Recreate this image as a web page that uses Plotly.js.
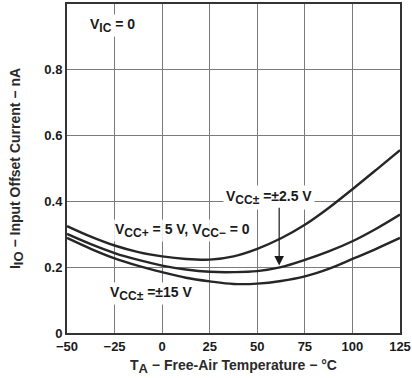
<!DOCTYPE html>
<html>
<head>
<meta charset="utf-8">
<script src="https://cdn.plot.ly/plotly-3.0.1.min.js"></script>
<style>html,body{margin:0;padding:0;background:#fff;}#chart{width:412px;height:378px;}</style>
</head>
<body>
<div id="chart"></div>
<script>
// Temperature (°C)
const temps = [-50, -37.5, -25, -12.5, 0, 12.5, 25, 37.5, 50, 62.5, 75, 87.5, 100, 112.5, 125];
// Input offset current (nA) per supply condition
const vcc2p5 = [0.325, 0.293, 0.266, 0.246, 0.233, 0.225, 0.223, 0.233, 0.256, 0.288, 0.329, 0.380, 0.437, 0.496, 0.556];
const vcc5single = [0.301, 0.270, 0.243, 0.222, 0.205, 0.193, 0.186, 0.185, 0.188, 0.200, 0.222, 0.248, 0.279, 0.317, 0.360];
const vcc15 = [0.289, 0.256, 0.227, 0.204, 0.185, 0.168, 0.157, 0.149, 0.150, 0.158, 0.172, 0.195, 0.225, 0.256, 0.289];
const xTicks = [-50, -25, 0, 25, 50, 75, 100, 125];
const xTickText = ['\u221250', '\u221225', '0', '25', '50', '75', '100', '125'];
const yTicks = [0, 0.2, 0.4, 0.6, 0.8, 1];
const yTickText = ['0', '0.2', '0.4', '0.6', '0.8', '1'];

function sub(t, px) { return '<sub><span style="font-size:' + px + 'px">' + t + '</span></sub>'; }

const lineStyle = {color: '#262626', width: 2.4, shape: 'spline', smoothing: 1};
const traces = [vcc2p5, vcc5single, vcc15].map(v => ({
  x: temps, y: v, mode: 'lines', line: lineStyle, hoverinfo: 'skip', showlegend: false
}));

const fam = 'Liberation Sans, Arial, sans-serif';
const annFont = {family: fam, size: 14, color: '#1a1a1a', weight: 'bold'};
const titleFont = {family: fam, size: 14, color: '#2a2a2a', weight: 'bold'};

const layout = {
  width: 412, height: 378,
  margin: {l: 67, r: 12, t: 4, b: 45},
  paper_bgcolor: '#fff', plot_bgcolor: '#fff',
  font: {family: fam, color: '#1a1a1a'},
  xaxis: {
    range: [-50, 125], tickvals: xTicks, ticktext: xTickText,
    showgrid: true, gridcolor: '#7a7a7a', gridwidth: 1,
    showline: true, linecolor: '#333', linewidth: 2, mirror: true,
    zeroline: false, ticks: '',
    tickfont: {family: fam, size: 13, color: '#1a1a1a', weight: 'bold'},
    title: {text: 'T' + sub('A', 13) + ' \u2212 Free-Air Temperature \u2212 \u00b0C', font: titleFont, standoff: 8}
  },
  yaxis: {
    range: [0, 1], tickvals: yTicks, ticktext: yTickText,
    showgrid: true, gridcolor: '#7a7a7a', gridwidth: 1,
    showline: true, linecolor: '#333', linewidth: 2, mirror: true,
    zeroline: false, ticks: '',
    tickfont: {family: fam, size: 13, color: '#1a1a1a', weight: 'bold'},
    title: {text: 'I' + sub('IO', 13) + ' \u2212 Input Offset Current \u2212 nA', font: titleFont, standoff: 20}
  },
  annotations: [
    {x: -26, y: 0.935, xref: 'x', yref: 'y', text: 'V' + sub('IC', 12) + ' = 0', showarrow: false, font: annFont, bgcolor: '#fff'},
    {x: 56, y: 0.413, xref: 'x', yref: 'y', text: 'V' + sub('CC\u00b1', 12) + ' =\u00b12.5 V', showarrow: false, font: annFont, bgcolor: '#fff', borderpad: 2},
    {x: 61.5, y: 0.205, ax: 61.5, ay: 0.385, xref: 'x', yref: 'y', axref: 'x', ayref: 'y', text: '', showarrow: true, arrowhead: 2, arrowsize: 1.6, arrowwidth: 1.2, arrowcolor: '#1a1a1a'},
    {x: 10.5, y: 0.313, xref: 'x', yref: 'y', text: 'V' + sub('CC+', 12) + ' = 5 V, V' + sub('CC\u2212', 12) + ' = 0', showarrow: false, font: annFont, bgcolor: 'rgba(255,255,255,0.85)'},
    {x: -6, y: 0.12, xref: 'x', yref: 'y', text: 'V' + sub('CC\u00b1', 12) + ' =\u00b115 V', showarrow: false, font: annFont, bgcolor: '#fff'}
  ]
};

Plotly.newPlot('chart', traces, layout, {displayModeBar: false, staticPlot: true});
</script>
</body>
</html>
